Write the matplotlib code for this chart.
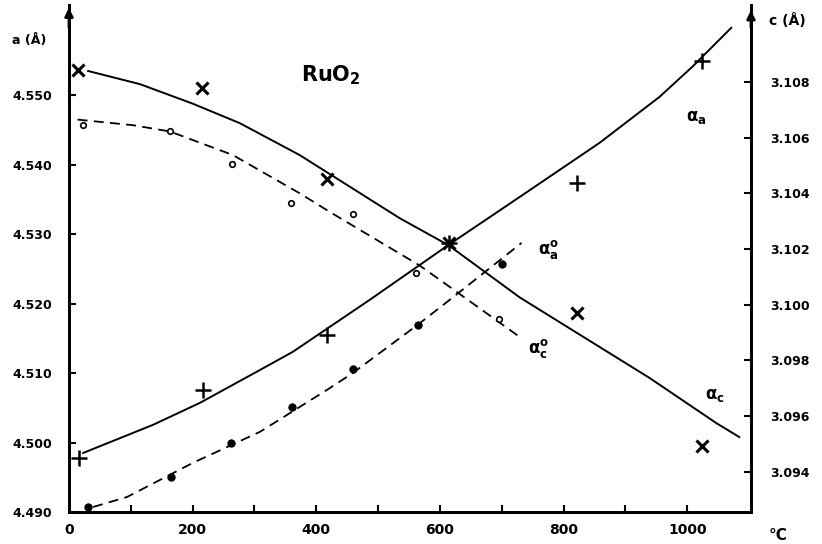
import matplotlib
matplotlib.use("Agg")
import matplotlib.pyplot as plt

# measured points, a (left axis) falling, c (right axis) rising
a_x_pts = [14, 215, 418, 614, 821, 1023]
a_pts = [4.5536, 4.5510, 4.5379, 4.5287, 4.5186, 4.4995]
a0_x_pts = [23, 163, 263, 359, 459, 562, 696]
a0_pts = [4.5457, 4.5448, 4.5401, 4.5345, 4.5329, 4.5244, 4.5178]

c_x_pts = [16, 216, 418, 614, 822, 1023]
c_pts = [3.09450, 3.09694, 3.09892, 3.10222, 3.10437, 3.10875]
c0_x_pts = [31, 165, 262, 360, 460, 564, 700]
c0_pts = [3.09274, 3.09382, 3.09504, 3.09633, 3.09770, 3.09928, 3.10147]

# hand drawn curves
a_curve_x = [31, 115, 200, 276, 373, 535, 614, 729, 939, 1047, 1084]
a_curve = [4.5535, 4.5516, 4.5488, 4.5460, 4.5414, 4.5323, 4.5284, 4.5209, 4.5093, 4.5028, 4.5008]
a0_curve_x = [14, 103, 163, 265, 373, 422, 567, 616, 729]
a0_curve = [4.5465, 4.5457, 4.5448, 4.5414, 4.5359, 4.5332, 4.5255, 4.5224, 4.5152]
c_curve_x = [23, 136, 212, 309, 362, 486, 614, 729, 858, 955, 1008, 1071]
c_curve = [3.09468, 3.09569, 3.09648, 3.09766, 3.09831, 3.10017, 3.10215, 3.10387, 3.10581, 3.10746, 3.10854, 3.10994]
c0_curve_x = [39, 94, 200, 309, 417, 459, 564, 620, 732]
c0_curve = [3.09274, 3.09310, 3.09432, 3.09544, 3.09694, 3.09755, 3.09928, 3.10025, 3.10222]

x_ticks = list(range(0, 1001, 100))
x_labels = ["0", "", "200", "", "400", "", "600", "", "800", "", "1000"]
a_ticks = [4.490, 4.500, 4.510, 4.520, 4.530, 4.540, 4.550]
a_labels = ["4.490", "4.500", "4.510", "4.520", "4.530", "4.540", "4.550"]
c_ticks = [3.094, 3.096, 3.098, 3.100, 3.102, 3.104, 3.106, 3.108]
c_labels = ["3.094", "3.096", "3.098", "3.100", "3.102", "3.104", "3.106", "3.108"]

fig = plt.figure(figsize=(8.22, 5.44), dpi=100)
ax = fig.add_axes([0.0839, 0.0588, 0.8297, 0.932])
ax2 = ax.twinx()

ax.set_xlim(0, 1103)
ax.set_ylim(4.490, 4.563)
ax2.set_ylim(3.09256, 3.11076)

dash = (0, (5.5, 3.5))
ax.plot(a_curve_x, a_curve, color="black", lw=1.4)
ax.plot(a0_curve_x, a0_curve, color="black", lw=1.3, linestyle=dash)
ax2.plot(c_curve_x, c_curve, color="black", lw=1.4)
ax2.plot(c0_curve_x, c0_curve, color="black", lw=1.3, linestyle=dash)

ax.plot(a_x_pts, a_pts, "x", color="black", ms=9, mew=2.2, zorder=5)
ax.plot(a0_x_pts, a0_pts, "o", mfc="white", mec="black", ms=4, mew=1.2, zorder=5)
ax2.plot(c_x_pts, c_pts, "+", color="black", ms=11, mew=1.8, zorder=5)
ax2.plot(c0_x_pts, c0_pts, "o", color="black", ms=5, zorder=5)

for a in (ax, ax2):
    a.spines["top"].set_visible(False)
    for s in ("left", "right", "bottom"):
        a.spines[s].set_linewidth(2.0)

ax.set_xticks(x_ticks)
ax.set_xticklabels(x_labels, fontsize=10, fontweight="bold")
ax.set_yticks(a_ticks)
ax.set_yticklabels(a_labels, fontsize=9, fontweight="bold")
ax2.set_yticks(c_ticks)
ax2.set_yticklabels(c_labels, fontsize=9, fontweight="bold")
ax.tick_params(axis="x", direction="in", length=5, width=1.5, pad=8)
ax.tick_params(axis="y", direction="in", length=5, width=1.5, pad=12)
ax2.tick_params(axis="y", direction="in", length=5, width=1.5, pad=14)

# arrow heads on the vertical axes
ax.annotate("", xy=(0, 1.0), xytext=(0, 0.95), xycoords="axes fraction",
            arrowprops=dict(arrowstyle="-|>", color="black", lw=2, mutation_scale=12))
ax.annotate("", xy=(1, 0.995), xytext=(1, 0.95), xycoords="axes fraction",
            arrowprops=dict(arrowstyle="-|>", color="black", lw=2, mutation_scale=12))

fig.text(0.015, 0.925, "a (Å)", fontsize=9, fontweight="bold", va="center")
fig.text(0.935, 0.963, "c (Å)", fontsize=10, fontweight="bold", va="center")
fig.text(0.935, 0.016, "°C", fontsize=11, fontweight="bold", va="center")

ax.text(0.34, 0.862, "RuO$_\\mathbf{2}$", transform=ax.transAxes, fontsize=15,
        fontweight="bold", va="center")
ax.text(0.905, 0.779, "α$_\\mathbf{a}$", transform=ax.transAxes, fontsize=12,
        fontweight="bold", va="center")
ax.text(0.932, 0.231, "α$_\\mathbf{c}$", transform=ax.transAxes, fontsize=12,
        fontweight="bold", va="center")
ax.text(0.688, 0.517, "α$^\\mathbf{o}_\\mathbf{a}$", transform=ax.transAxes, fontsize=12,
        fontweight="bold", va="center")
ax.text(0.673, 0.323, "α$^\\mathbf{o}_\\mathbf{c}$", transform=ax.transAxes, fontsize=12,
        fontweight="bold", va="center")

fig.savefig("out.png", dpi=100)
